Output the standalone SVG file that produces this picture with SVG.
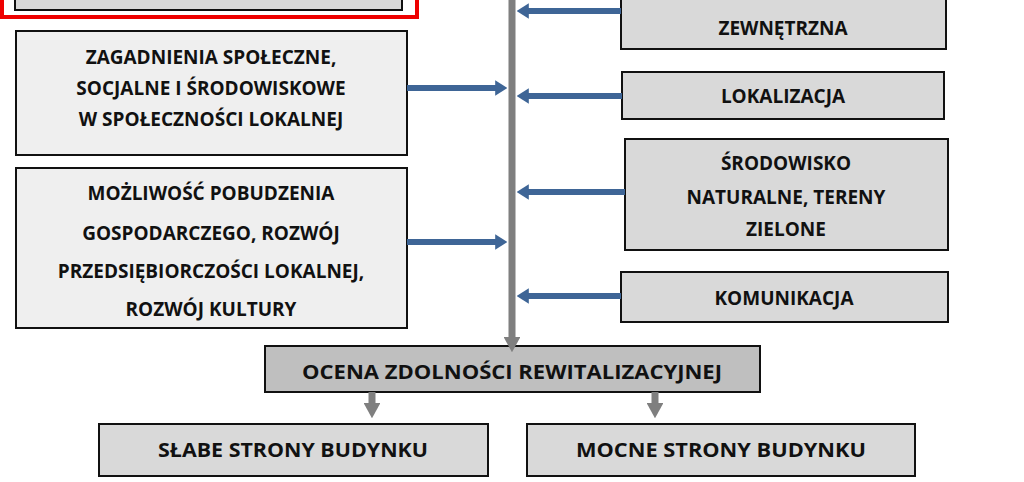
<svg xmlns="http://www.w3.org/2000/svg" width="1024" height="482" viewBox="0 0 1024 482">
<style>
.b{stroke:#111;stroke-width:2}
.l{fill:#efefef}.g{fill:#d9d9d9}.d{fill:#bfbfbf}
text{font-family:"Open Sans",Lato,sans-serif;font-weight:bold;font-size:19px;fill:#111;text-anchor:middle}
.ba{stroke:#3e6596;stroke-width:6;fill:none}
.ga{stroke:#7f7f7f;stroke-width:7;fill:none}
</style>
<defs>
<marker id="bh" markerWidth="2" markerHeight="2.6" refX="0.3" refY="1.3" orient="auto" markerUnits="strokeWidth"><path d="M0,0L2,1.3L0,2.6z" fill="#3e6596"/></marker>
<marker id="gh" markerWidth="2.2" markerHeight="2.4" refX="0.3" refY="1.2" orient="auto" markerUnits="strokeWidth"><path d="M0,0L2.2,1.2L0,2.4z" fill="#7f7f7f"/></marker>
</defs>
<rect width="1024" height="482" fill="#fff"/>
<g id="top"><rect x="2" y="-10" width="415" height="27" fill="none" stroke="#e00" stroke-width="4"/><rect class="b g" x="15" y="-10" width="387" height="20"/></g>
<g id="n1"><rect class="b l" x="16" y="31" width="391" height="124"/>
<text x="211" y="64">ZAGADNIENIA SPOŁECZNE,</text><text x="211" y="95">SOCJALNE I ŚRODOWISKOWE</text><text x="211" y="126">W SPOŁECZNOŚCI LOKALNEJ</text></g>
<g id="n2"><rect class="b l" x="16" y="168" width="391" height="160"/>
<text x="211" y="200">MOŻLIWOŚĆ POBUDZENIA</text><text x="211" y="240">GOSPODARCZEGO, ROZWÓJ</text><text x="211" y="278">PRZEDSIĘBIORCZOŚCI LOKALNEJ,</text><text x="211" y="316">ROZWÓJ KULTURY</text></g>
<g id="r1"><rect class="b g" x="621" y="-10" width="325" height="59"/><text x="783" y="35">ZEWNĘTRZNA</text></g>
<g id="r2"><rect class="b g" x="622" y="72" width="322" height="47"/><text x="783" y="103">LOKALIZACJA</text></g>
<g id="r3"><rect class="b g" x="625" y="139" width="323" height="111"/><text x="786" y="170">ŚRODOWISKO</text><text x="786" y="204">NATURALNE, TERENY</text><text x="786" y="236">ZIELONE</text></g>
<g id="r4"><rect class="b g" x="621" y="272" width="327" height="50"/><text x="784" y="305">KOMUNIKACJA</text></g>
<g id="c"><rect class="b d" x="265" y="346" width="495" height="46"/><text x="512" y="379" textLength="420" lengthAdjust="spacingAndGlyphs">OCENA ZDOLNOŚCI REWITALIZACYJNEJ</text></g>
<g id="s"><rect class="b g" x="99" y="424" width="389" height="52"/><text x="293" y="457" textLength="270" lengthAdjust="spacingAndGlyphs">SŁABE STRONY BUDYNKU</text></g>
<g id="m"><rect class="b g" x="527" y="424" width="388" height="52"/><text x="721" y="457" textLength="290" lengthAdjust="spacingAndGlyphs">MOCNE STRONY BUDYNKU</text></g>
<g id="connectors">
<path class="ga" d="M512,0V339" marker-end="url(#gh)"/>
<path class="ga" d="M372,392V405" marker-end="url(#gh)"/>
<path class="ga" d="M655,392V405" marker-end="url(#gh)"/>
<path class="ba" d="M407,242H497" marker-end="url(#bh)"/>
<path class="ba" d="M407,88H497" marker-end="url(#bh)"/>
<path class="ba" d="M621,11H527" marker-end="url(#bh)"/>
<path class="ba" d="M622,96H527" marker-end="url(#bh)"/>
<path class="ba" d="M625,192H527" marker-end="url(#bh)"/>
<path class="ba" d="M621,296H527" marker-end="url(#bh)"/>
</g>
</svg>
